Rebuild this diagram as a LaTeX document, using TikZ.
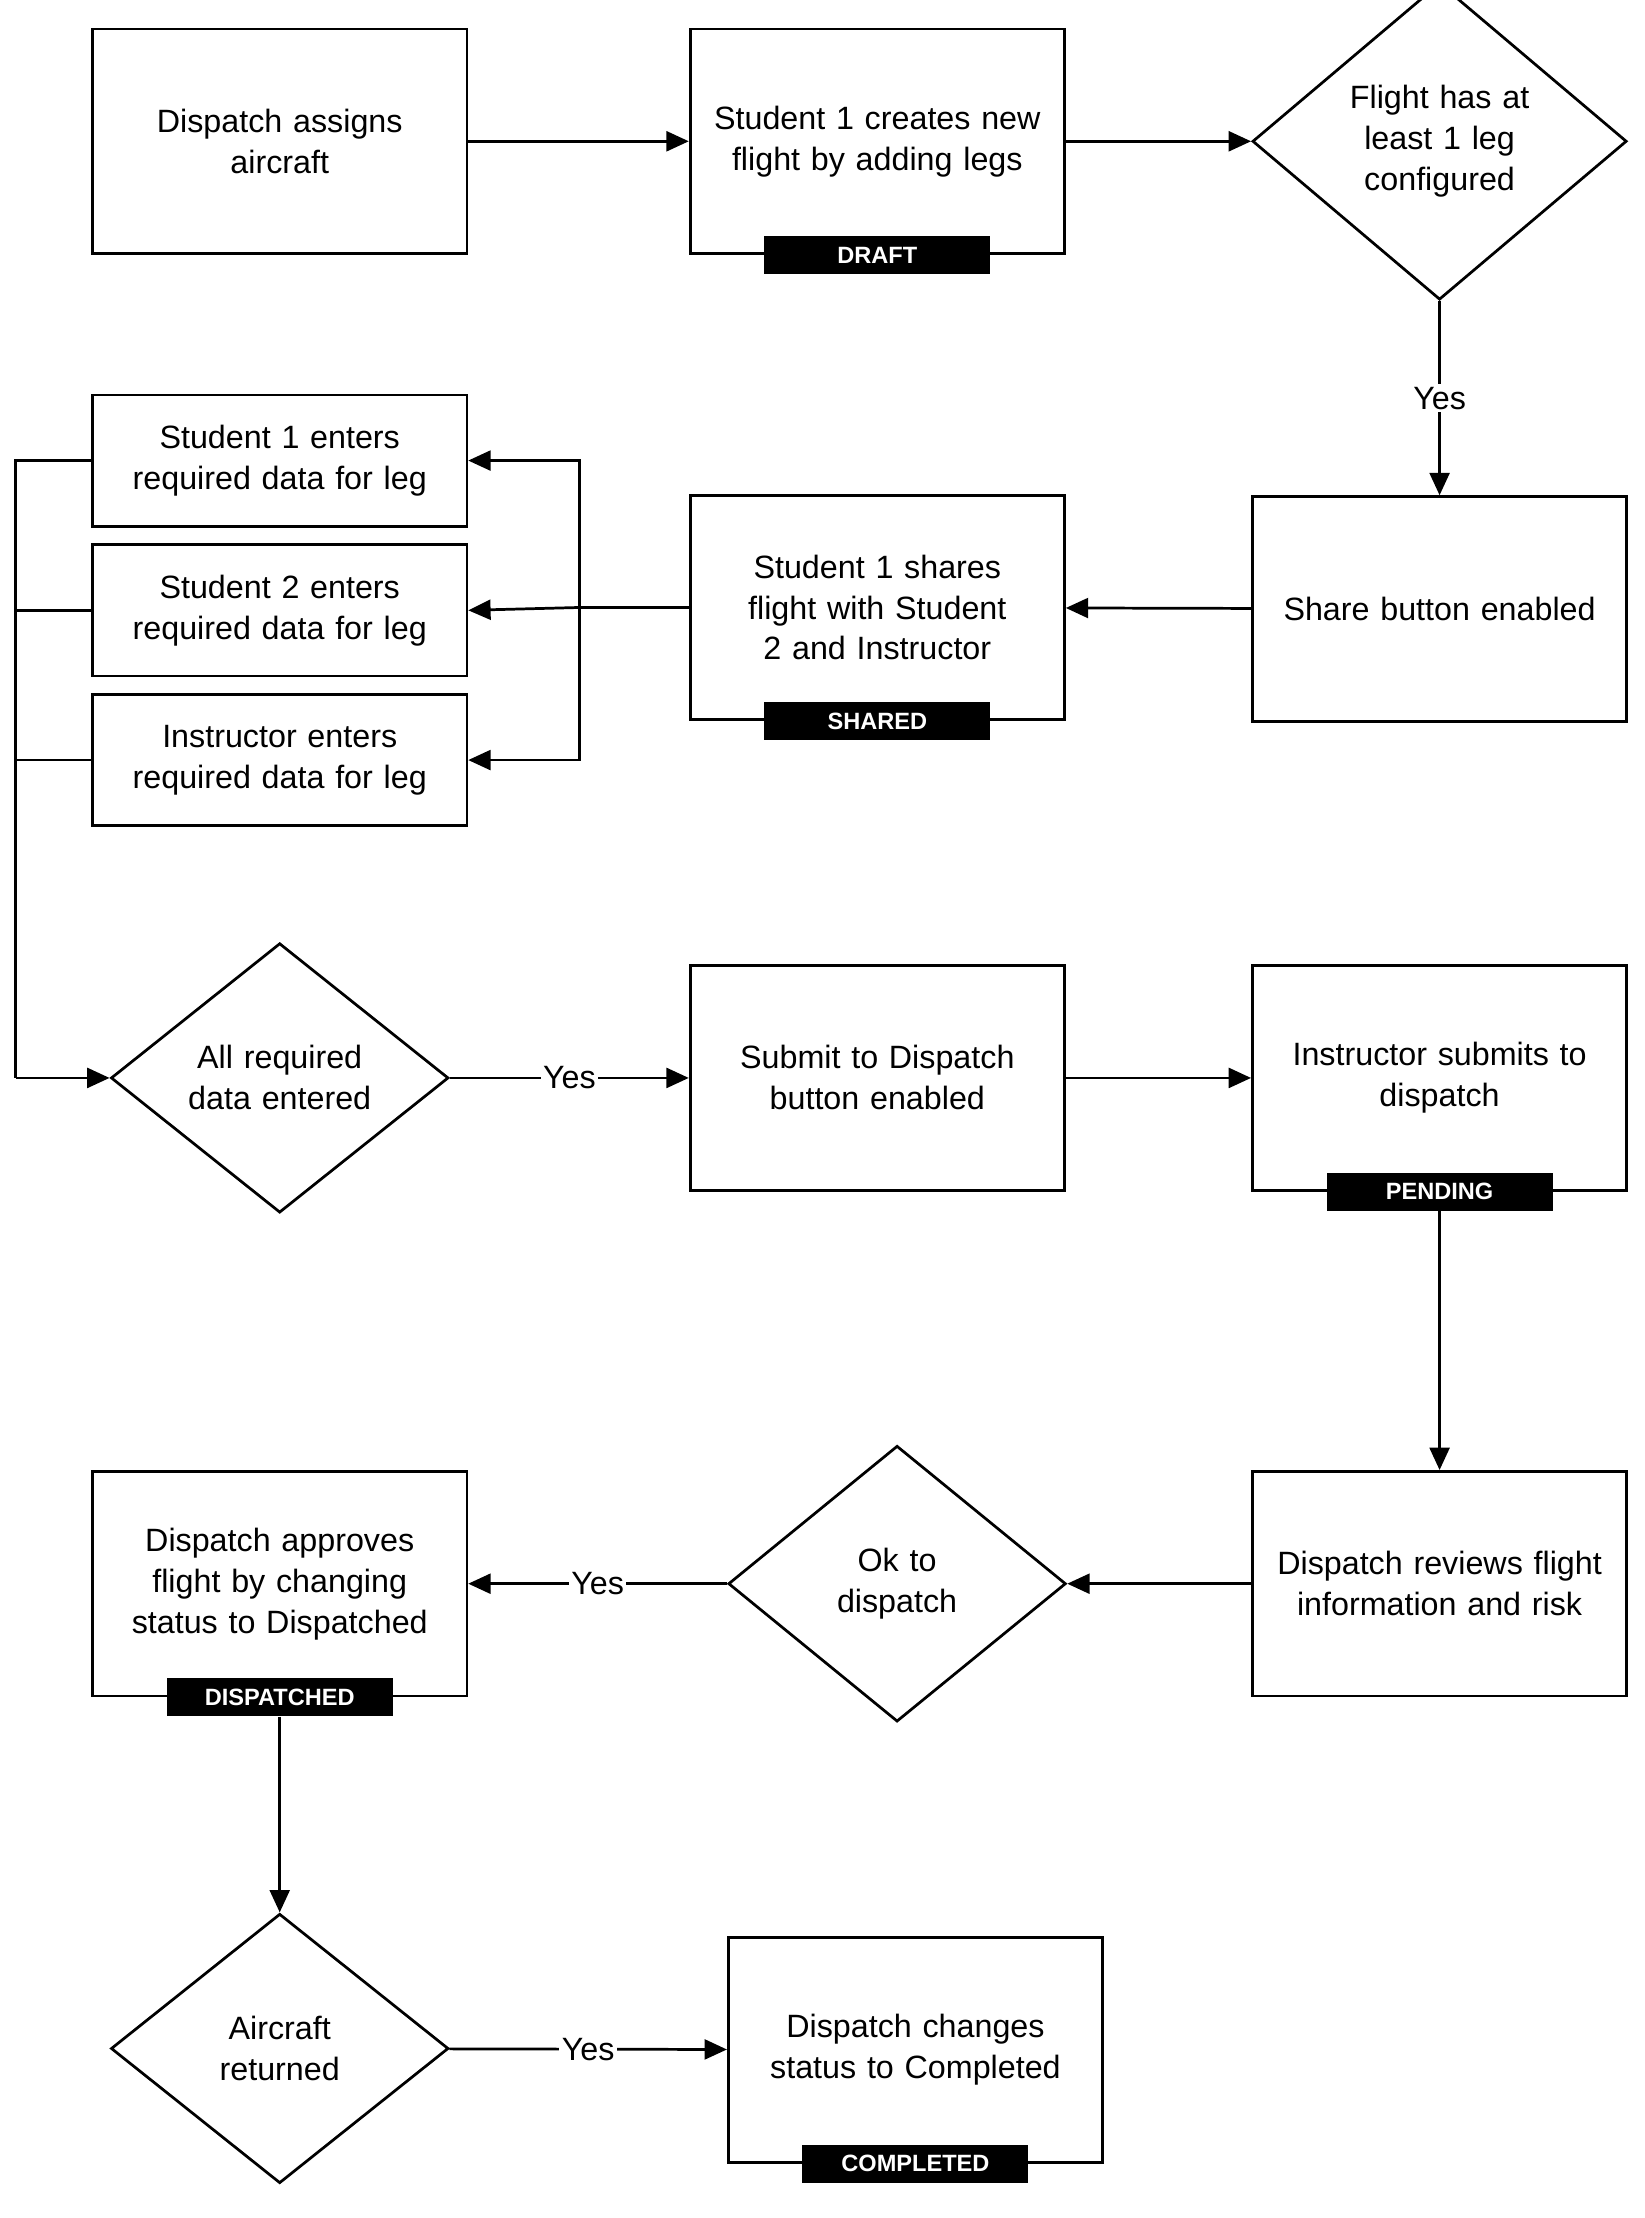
\documentclass[tikz,border=0pt]{standalone}
\usepackage{fontspec}
\setmainfont{Liberation Sans}
\usetikzlibrary{arrows.meta,shapes.geometric}
\tikzset{
  box/.style={draw=black, line width=1.1pt, minimum width=5.3cm, minimum height=3.18cm, align=center, text width=4.8cm, font=\fontsize{13}{16.5}\selectfont},
  small/.style={box, minimum height=1.86cm},
  choice/.style={draw=black, diamond, line width=1.1pt, inner sep=0pt, align=center, text width=2.9cm, font=\fontsize{13}{16.5}\selectfont},
  tag/.style={fill=black, text=white, minimum width=3.2cm, minimum height=0.54cm, inner sep=0pt, font=\fontsize{9.5}{11}\selectfont\bfseries},
  link/.style={line width=1.1pt, -{Triangle[length=9pt,width=8pt]}},
  wire/.style={line width=1.1pt},
  yes/.style={fill=white, inner sep=1pt, font=\fontsize{13}{16}\selectfont}
}
\begin{document}
\begin{tikzpicture}[x=0.02cm, y=-0.02cm]
  \useasboundingbox (0,0) rectangle (1164,1570);
  % row 1
  \node[box] (assign) at (198,100) {Dispatch assigns\\aircraft};
  \node[box] (create) at (621,100) {Student 1 creates new flight by adding legs\\[0.6cm]};
  \node[tag] (draft) at (create.south) {DRAFT};
  \node[choice, minimum width=5.3cm, minimum height=3.68cm] (legs) at (1019,100) {Flight has at\\least 1 leg\\configured};
  % row 2
  \node[box] (share) at (1019,431) {Share button enabled};
  \node[box] (shares) at (621,430) {Student 1 shares flight with Student 2 and Instructor};
  \node[tag] (shared) at (shares.south) {SHARED};
  \node[small] (stuA) at (198,326) {Student 1 enters\\required data for leg};
  \node[small] (stuB) at (198,432) {Student 2 enters\\required data for leg};
  \node[small] (inst) at (198,538) {Instructor enters\\required data for leg};
  \coordinate (fork) at (410,430);
  \coordinate (rail) at (11,763);
  % row 3
  \node[choice, minimum width=4.78cm, minimum height=3.72cm] (alldata) at (198,763) {All required\\data entered};
  \node[box] (submit) at (621,763) {Submit to Dispatch\\button enabled};
  \node[box] (isubmit) at (1019,763) {Instructor submits to\\dispatch\\[0.3cm]};
  \node[tag] (pending) at (isubmit.south) {PENDING};
  % row 4
  \node[box] (review) at (1019,1121) {Dispatch reviews flight\\information and risk};
  \node[choice, minimum width=4.78cm, minimum height=3.72cm] (ok) at (635,1121) {Ok to dispatch};
  \node[box] (approve) at (198,1121) {Dispatch approves flight by changing status to Dispatched\\[0.2cm]};
  \node[tag] (dispatched) at (approve.south) {DISPATCHED};
  % row 5
  \node[choice, minimum width=4.78cm, minimum height=3.72cm] (returned) at (198,1450) {Aircraft returned};
  \node[box] (complete) at (648,1451) {Dispatch changes\\status to Completed\\[0.3cm]};
  \node[tag] (completed) at (complete.south) {COMPLETED};
  % connectors
  \draw[link] (assign) -- (create);
  \draw[link] (create) -- (legs);
  \draw[link] (legs) -- node[yes] {Yes} (share);
  \draw[link] (share) -- (shares);
  \draw[wire] (shares.west) -- (fork);
  \draw[link] (fork) |- (stuA.east);
  \draw[link] (fork) -- (stuB.east);
  \draw[link] (fork) |- (inst.east);
  \draw[wire] (stuA.west) -| (rail);
  \draw[wire] (stuB.west) -| (rail);
  \draw[wire] (inst.west) -| (rail);
  \draw[link] (rail) -- (alldata.west);
  \draw[link] (alldata) -- node[yes, pos=0.5] {Yes} (submit);
  \draw[link] (submit) -- (isubmit);
  \draw[link] (pending.south) -- (review.north);
  \draw[link] (review) -- (ok);
  \draw[link] (ok) -- node[yes] {Yes} (approve);
  \draw[link] (dispatched.south) -- (returned.north);
  \draw[link] (returned) -- node[yes] {Yes} (complete);
\end{tikzpicture}
\end{document}
